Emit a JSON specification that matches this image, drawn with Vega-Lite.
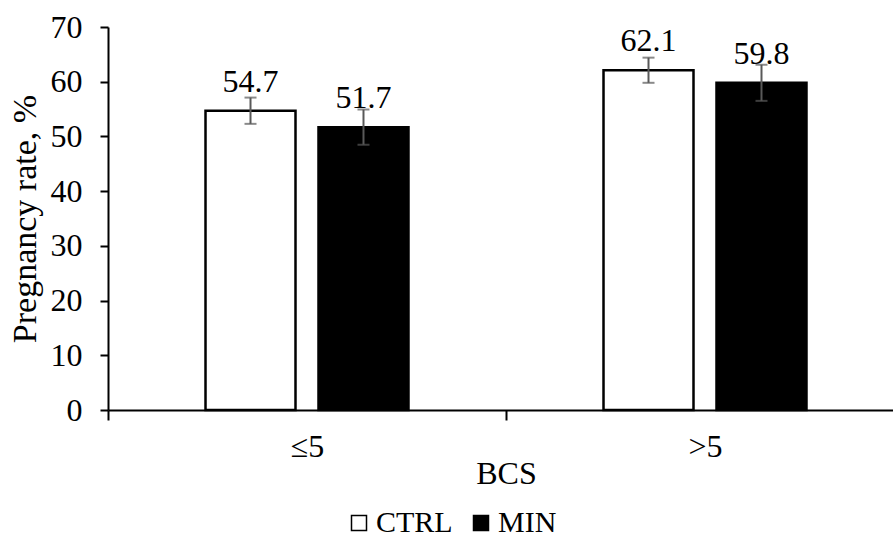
{
  "$schema": "https://vega.github.io/schema/vega-lite/v6.json",
  "autosize": {"type": "none"},
  "width": 785,
  "height": 383,
  "padding": {"left": 108, "top": 27, "right": 0, "bottom": 131},
  "background": "white",
  "config": {
    "view": {"stroke": null},
    "font": "Liberation Serif",
    "axis": {"labelFont": "Liberation Serif", "titleFont": "Liberation Serif", "labelColor": "black", "titleColor": "black", "titleFontWeight": "normal", "domainColor": "black", "tickColor": "black", "domainWidth": 2, "tickWidth": 2}
  },
  "data": {"values": [
    {"BCS": "≤5", "group": "CTRL", "value": 54.7, "lo": 52.3, "hi": 57.1},
    {"BCS": "≤5", "group": "MIN", "value": 51.7, "lo": 48.5, "hi": 54.9},
    {"BCS": ">5", "group": "CTRL", "value": 62.1, "lo": 59.8, "hi": 64.4},
    {"BCS": ">5", "group": "MIN", "value": 59.8, "lo": 56.5, "hi": 63.1}
  ]},
  "encoding": {
    "x": {"field": "BCS", "type": "nominal", "sort": ["≤5", ">5"],
      "scale": {"range": [0, 796], "paddingInner": 0, "paddingOuter": 0},
      "axis": {"title": "BCS", "labelAngle": 0, "labelFontSize": 32, "titleFontSize": 32, "tickBand": "extent", "tickSize": 10, "labelPadding": 11, "titlePadding": -4}},
    "xOffset": {"field": "group", "type": "nominal", "sort": ["CTRL", "MIN"],
      "scale": {"paddingInner": 0.2035, "paddingOuter": 0.863}}
  },
  "layer": [
    {
      "mark": {"type": "bar", "stroke": "black", "strokeWidth": 2.5},
      "encoding": {
        "y": {"field": "value", "type": "quantitative",
          "scale": {"domain": [0, 70], "nice": false},
          "axis": {"title": "Pregnancy rate, %", "values": [0, 10, 20, 30, 40, 50, 60, 70], "labelFontSize": 32, "titleFontSize": 34, "tickSize": 8, "labelPadding": 18, "titlePadding": 8, "grid": false}},
        "fill": {"field": "group", "type": "nominal", "sort": ["CTRL", "MIN"],
          "scale": {"domain": ["CTRL", "MIN"], "range": ["white", "black"]},
          "legend": {"title": null, "orient": "none", "direction": "horizontal", "legendX": 236, "legendY": 481,
            "symbolType": "square", "symbolSize": 225, "symbolStrokeColor": "black", "symbolStrokeWidth": 1.5,
            "labelFont": "Liberation Serif", "labelFontSize": 30, "labelColor": "black", "labelOffset": 2, "columnPadding": 13}}
      }
    },
    {
      "mark": {"type": "text", "dy": -19, "baseline": "alphabetic", "fontSize": 32, "font": "Liberation Serif", "color": "black"},
      "encoding": {
        "y": {"field": "value", "type": "quantitative"},
        "text": {"field": "value", "type": "quantitative", "format": ".1f"}
      }
    },
    {
      "mark": {"type": "rule", "color": "#595959", "strokeWidth": 2},
      "encoding": {
        "y": {"field": "lo", "type": "quantitative"},
        "y2": {"field": "hi"}
      }
    },
    {
      "mark": {"type": "tick", "orient": "horizontal", "size": 12, "thickness": 2, "color": "#595959"},
      "encoding": {"y": {"field": "lo", "type": "quantitative"}}
    },
    {
      "mark": {"type": "tick", "orient": "horizontal", "size": 12, "thickness": 2, "color": "#595959"},
      "encoding": {"y": {"field": "hi", "type": "quantitative"}}
    }
  ]
}
